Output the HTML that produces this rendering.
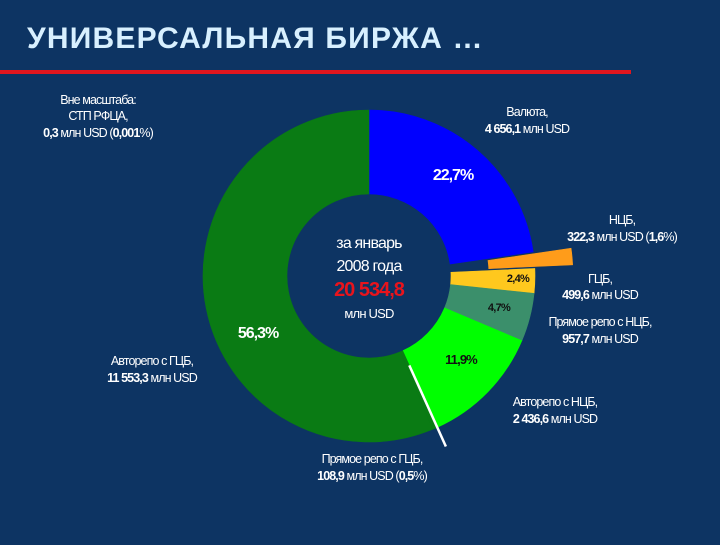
<!DOCTYPE html>
<html><head><meta charset="utf-8"><style>
body{margin:0;width:720px;height:540px;background:#0d3463;overflow:hidden;font-family:"Liberation Sans",sans-serif}
.t{fill:#fff;font-size:12.5px;letter-spacing:-0.9px}
</style></head><body>
<svg width="720" height="540">
<rect width="720" height="540" fill="#0d3463"/>
<text x="27" y="48" fill="#d8f0ff" font-size="30" font-weight="bold" letter-spacing="1.2">УНИВЕРСАЛЬНАЯ БИРЖА …</text>
<rect x="0" y="70" width="631" height="4" fill="#e0161e"/>
<g id="donut"></g>
<g text-anchor="middle">
<text class="t" x="98" y="104">Вне масштаба:</text>
<text class="t" x="98" y="120">СТП РФЦА,</text>
<text class="t" x="98" y="137"><tspan font-weight="bold">0,3</tspan> млн USD (<tspan font-weight="bold">0,001</tspan>%)</text>
<text class="t" x="527" y="116">Валюта,</text>
<text class="t" x="527" y="133"><tspan font-weight="bold">4 656,1</tspan> млн USD</text>
<text class="t" x="622" y="224">НЦБ,</text>
<text class="t" x="622" y="241"><tspan font-weight="bold">322,3</tspan> млн USD (<tspan font-weight="bold">1,6</tspan>%)</text>
<text class="t" x="600" y="283">ГЦБ,</text>
<text class="t" x="600" y="299"><tspan font-weight="bold">499,6</tspan> млн USD</text>
<text class="t" x="600" y="326">Прямое репо с НЦБ,</text>
<text class="t" x="600" y="343"><tspan font-weight="bold">957,7</tspan> млн USD</text>
<text class="t" x="555" y="406">Авторепо с НЦБ,</text>
<text class="t" x="555" y="423"><tspan font-weight="bold">2 436,6</tspan> млн USD</text>
<text class="t" x="372" y="463">Прямое репо с ГЦБ,</text>
<text class="t" x="372" y="480"><tspan font-weight="bold">108,9</tspan> млн USD (<tspan font-weight="bold">0,5</tspan>%)</text>
<text class="t" x="152" y="365">Авторепо с ГЦБ,</text>
<text class="t" x="152" y="382"><tspan font-weight="bold">11 553,3</tspan> млн USD</text>
<text x="369" y="248" fill="#fff" font-size="16" letter-spacing="-0.8">за январь</text>
<text x="369" y="271" fill="#fff" font-size="16" letter-spacing="-0.8">2008 года</text>
<text x="369" y="296" fill="#e8141c" font-size="20" font-weight="bold" letter-spacing="-1">20 534,8</text>
<text x="369" y="318" fill="#fff" font-size="13" letter-spacing="-0.8">млн USD</text>
<text x="453" y="180" fill="#fff" font-size="16" font-weight="bold" letter-spacing="-1">22,7%</text>
<text x="258" y="338" fill="#fff" font-size="16" font-weight="bold" letter-spacing="-1">56,3%</text>
<text x="518" y="282" fill="#111" font-size="11" font-weight="bold" letter-spacing="-0.7">2,4%</text>
<text x="499" y="311" fill="#111" font-size="11" font-weight="bold" letter-spacing="-0.7">4,7%</text>
<text x="461" y="364" fill="#111" font-size="13" font-weight="bold" letter-spacing="-0.9">11,9%</text>
</g>
</svg>
<script>
const categories=["Валюта","НЦБ","ГЦБ","Прямое репо с НЦБ","Авторепо с НЦБ","Прямое репо с ГЦБ","Авторепо с ГЦБ"];
const values=[22.7,1.6,2.4,4.7,11.9,0.5,56.3];
const colors=["#0000ff","#ff9c1a","#ffc81e","#3b8f6b","#00ff00","#0a7b14","#0a7b14"];
const cx=369,cy=276,R=166,r=82;
const total=values.reduce((a,b)=>a+b,0);
const g=document.getElementById('donut');
const ns="http://www.w3.org/2000/svg";
function pt(a,rad,ox,oy){return [cx+ox+rad*Math.sin(a),cy+oy-rad*Math.cos(a)];}
let acc=0;
let lineAngle=0;
values.forEach((v,i)=>{
  const a0=acc/total*2*Math.PI; acc+=v; const a1=acc/total*2*Math.PI;
  const p=document.createElementNS(ns,'path');
  
  
  if(i===5) lineAngle=a0;
  let ox=0,oy=0;
  if(i===1){const m=(a0+a1)/2;ox=38*Math.sin(m);oy=-38*Math.cos(m);}
  const A=pt(a0,R,ox,oy),B=pt(a1,R,ox,oy),C=pt(a1,r,ox,oy),D=pt(a0,r,ox,oy);
  const lg=(a1-a0)>Math.PI?1:0;
  p.setAttribute('d',`M${A[0]},${A[1]}A${R},${R} 0 ${lg} 1 ${B[0]},${B[1]}L${C[0]},${C[1]}A${r},${r} 0 ${lg} 0 ${D[0]},${D[1]}Z`);
  p.setAttribute('fill',colors[i]);
  p.setAttribute('stroke',colors[i]);
  p.setAttribute('stroke-width','0.6');
  g.appendChild(p);
});
const ln=document.createElementNS(ns,'path');


const s=pt(lineAngle,r+16,0,0),e=pt(lineAngle,R+21,0,0);
ln.setAttribute('d',`M${s[0]},${s[1]}L${e[0]},${e[1]}`);
ln.setAttribute('stroke','#fff');ln.setAttribute('stroke-width','2.5');
g.appendChild(ln);
</script>
</body></html>
